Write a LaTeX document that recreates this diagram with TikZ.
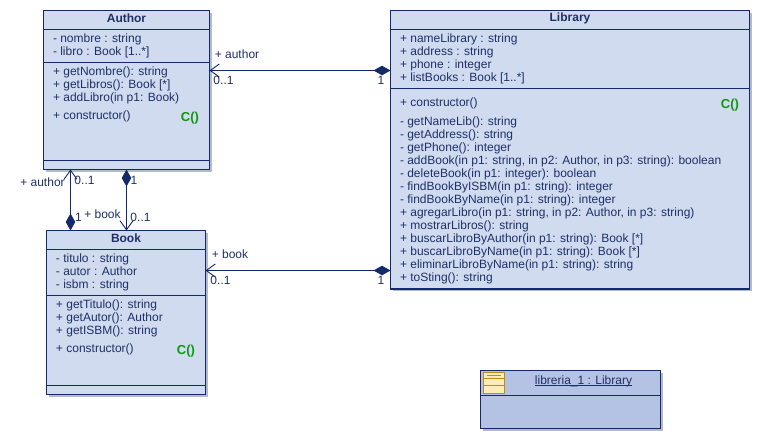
\documentclass[tikz,border=0pt]{standalone}
\usepackage{fontspec}
\setmainfont{Liberation Sans}
\usetikzlibrary{arrows.meta}
\definecolor{umlborder}{HTML}{12296B}
\definecolor{umltext}{HTML}{1F3068}
\definecolor{umlfill}{HTML}{D0DBEF}
\definecolor{objfill}{HTML}{B4C3E3}
\definecolor{umlshadow}{HTML}{B4BACA}
\definecolor{umlgreen}{HTML}{0E9A0E}
\definecolor{iconfill}{HTML}{FEEDB8}
\definecolor{iconline}{HTML}{BE8A1A}
\tikzset{
  x=1pt,y=-1pt,
  every node/.style={font=\fontsize{12}{13}\selectfont,text=umltext,inner sep=0pt,outer sep=0pt},
  umlbox/.style={draw=umlborder,line width=1pt,fill=umlfill,anchor=north west},
  sep/.style={draw=umlborder,line width=1pt},
  members/.style={anchor=west,align=left,yshift=-0.9pt},
  boxtitle/.style={font=\fontsize{12}{13}\selectfont\bfseries,yshift=-0.7pt},
  ctor/.style={font=\fontsize{13}{13}\selectfont\bfseries,text=umlgreen,yshift=-0.7pt},
  label/.style={anchor=center,yshift=-0.7pt},
  assoc/.style={draw=umlborder,line width=1pt,
    {Diamond[length=17pt,width=9.5pt,fill=umlborder]}-{Straight Barb[length=9pt,width=13pt,line width=.9pt]}},
}
\newcommand{\umlshadowbox}[4]{\fill[umlshadow] (#1+2,#2+2) rectangle (#3+2,#4+2);}
\begin{document}
\begin{tikzpicture}
\useasboundingbox (0,0) rectangle (761,440);
% shadows
\umlshadowbox{43.5}{10.5}{209.5}{169.5}
\umlshadowbox{46.5}{230.5}{205.5}{394.5}
\umlshadowbox{390.5}{10.5}{749.5}{289}
\umlshadowbox{480.5}{370.5}{660.5}{428.5}
% class boxes
\node[umlbox,minimum width=166pt,minimum height=159pt] (author) at (43.5,10.5) {};
\node[umlbox,minimum width=159pt,minimum height=164pt] (book) at (46.5,230.5) {};
\node[umlbox,line width=1.4pt,minimum width=359pt,minimum height=278.5pt] (library) at (390.5,10.5) {};
\node[umlbox,fill=objfill,minimum width=180pt,minimum height=58pt] (obj) at (480.5,370.5) {};
% separators
\draw[sep] (author.west |- 0,29.5) -- (author.east |- 0,29.5);
\draw[sep] (author.west |- 0,62.5) -- (author.east |- 0,62.5);
\draw[sep] (author.west |- 0,160.5) -- (author.east |- 0,160.5);
\draw[sep] (book.west |- 0,249.5) -- (book.east |- 0,249.5);
\draw[sep] (book.west |- 0,295.5) -- (book.east |- 0,295.5);
\draw[sep] (book.west |- 0,385.5) -- (book.east |- 0,385.5);
\draw[sep] (library.west |- 0,29.5) -- (library.east |- 0,29.5);
\draw[sep] (library.west |- 0,88.5) -- (library.east |- 0,88.5);
\draw[sep] (obj.west |- 0,395.5) -- (obj.east |- 0,395.5);
% titles
\node[boxtitle] (authortitle) at (126.5,18) {Author};
\node[boxtitle] (booktitle) at (126,238) {Book};
\node[boxtitle] (librarytitle) at (570,18) {Library};
% Author text
\node[members] (authorattrs) at (53,44.5) {- nombre : string\\- libro : Book [1..*]};
\node[members] (authorops) at (53,84) {+ getNombre(): string\\+ getLibros(): Book [*]\\+ addLibro(in p1: Book)};
\node[members] (authorctor) at (53,115) {+ constructor()};
\node[ctor] (authorc) at (190,117) {C()};
% Book text
\node[members] (bookattrs) at (56,271) {- titulo : string\\- autor : Author\\- isbm : string};
\node[members] (bookops) at (56,317) {+ getTitulo(): string\\+ getAutor(): Author\\+ getISBM(): string};
\node[members] (bookctor) at (56,348) {+ constructor()};
\node[ctor] (bookc) at (186,350) {C()};
% Library text
\node[members] (libattrs) at (400,57.5) {+ nameLibrary : string\\+ address : string\\+ phone : integer\\+ listBooks : Book [1..*]};
\node[members] (libctor) at (400,102) {+ constructor()};
\node[ctor] (libc) at (730,104) {C()};
\node[members] (libops) at (400,199) {- getNameLib(): string\\- getAddress(): string\\- getPhone(): integer\\- addBook(in p1: string, in p2: Author, in p3: string): boolean\\- deleteBook(in p1: integer): boolean\\- findBookByISBM(in p1: string): integer\\- findBookByName(in p1: string): integer\\+ agregarLibro(in p1: string, in p2: Author, in p3: string)\\+ mostrarLibros(): string\\+ buscarLibroByAuthor(in p1: string): Book [*]\\+ buscarLibroByName(in p1: string): Book [*]\\+ eliminarLibroByName(in p1: string): string\\+ toSting(): string};
% object
\node[anchor=base] (objname) at (583.5,384) {libreria\_1 : Library};
\draw[umltext,line width=.8pt] ([yshift=-1.6pt]objname.base west) -- ([yshift=-1.6pt]objname.base east);
\filldraw[fill=iconfill,draw=iconline,line width=1pt] (483.5,372.5) rectangle (504.5,393.5);
\draw[iconline,line width=1pt] (483.5,378.5) -- (504.5,378.5) (483.5,385.5) -- (504.5,385.5) (487,375.5) -- (501,375.5);
% associations
\draw[assoc] (library.west |- 0,70.5) -- (author.east |- 0,70.5);
\draw[assoc] (library.west |- 0,270.5) -- (book.east |- 0,270.5);
\draw[assoc] (book.north -| 70.5,0) -- (author.south -| 70.5,0);
\draw[assoc] (author.south -| 126.5,0) -- (book.north -| 126.5,0);
% association labels
\node[label] (l1) at (237,54) {+ author};
\node[label] (l2) at (223.5,80) {0..1};
\node[label] (l3) at (381,80) {1};
\node[label] (l4) at (42.5,182) {+ author};
\node[label] (l5) at (84.5,180) {0..1};
\node[label] (l6) at (78.5,217) {1};
\node[label] (l7) at (102.5,214) {+ book};
\node[label] (l8) at (134,180) {1};
\node[label] (l9) at (140.5,217) {0..1};
\node[label] (l10) at (230,254) {+ book};
\node[label] (l11) at (220.5,280) {0..1};
\node[label] (l12) at (381,280) {1};
\end{tikzpicture}
\end{document}
